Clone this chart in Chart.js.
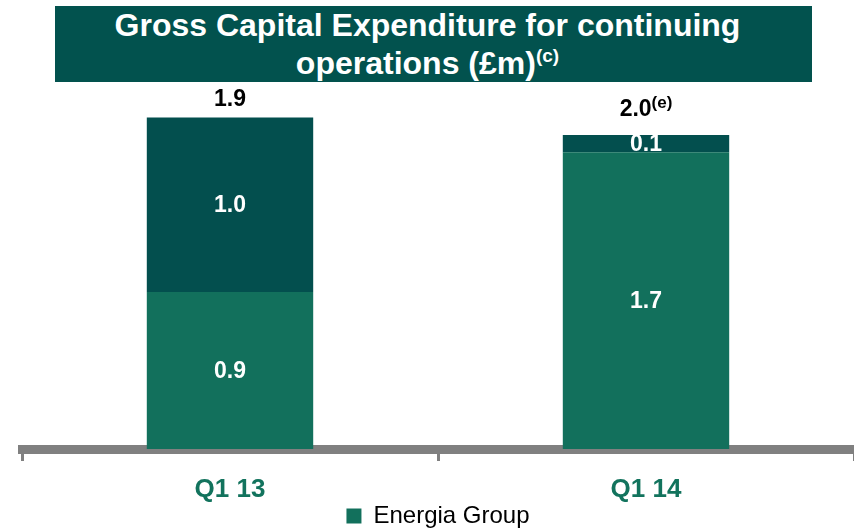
<!DOCTYPE html>
<html>
<head>
<meta charset="utf-8">
<script src="https://cdn.jsdelivr.net/npm/chart.js@4.4.1/dist/chart.umd.min.js"></script>
<style>
  html, body { margin: 0; padding: 0; background: #fff; overflow: hidden; }
  #wrap { position: relative; width: 854px; height: 529px; overflow: hidden; }
  #banner {
    position: absolute; left: 55px; top: 6px; width: 757px; height: 76px;
    background: #02524e; color: #fff; text-align: center;
    font: bold 32px "Liberation Sans", Arial, sans-serif; line-height: 38px;
    padding-right: 12px; box-sizing: border-box;
  }
  #banner sup { font-size: 19px; vertical-align: 12px; line-height: 0; }
  canvas { position: absolute; left: 0; top: 0; }
</style>
</head>
<body>
<div id="wrap">
  <canvas id="chart" width="854" height="538"></canvas>
  <div id="banner">Gross Capital Expenditure for continuing<br>operations (£m)<sup>(c)</sup></div>
</div>
<script>
const categories = ['Q1 13', 'Q1 14'];
const energiaGroup = [0.9, 1.7];
const other = [1.0, 0.1];
const totalLabels = ['1.9', '2.0'];
const totalNotes = ['', '(e)'];

const LIGHT = '#12705c';
const DARK = '#034f4e';
const FONT = '"Liberation Sans", Arial, sans-serif';

// value labels inside the segments and totals above each stack
const barLabels = {
  id: 'barLabels',
  afterDatasetsDraw(chart) {
    const ctx = chart.ctx;
    ctx.save();
    ctx.textAlign = 'center';
    ctx.textBaseline = 'middle';
    ctx.font = 'bold 23px ' + FONT;
    ctx.fillStyle = '#fff';
    chart.data.datasets.forEach((ds, di) => {
      chart.getDatasetMeta(di).data.forEach((bar, i) => {
        const mid = (bar.y + bar.base) / 2;
        ctx.fillText(ds.data[i].toFixed(1), bar.x, mid + 1);
      });
    });
    const top = chart.getDatasetMeta(1).data;
    top.forEach((bar, i) => {
      ctx.fillStyle = '#000';
      ctx.textBaseline = 'alphabetic';
      ctx.textAlign = 'left';
      const main = totalLabels[i];
      const note = totalNotes[i];
      ctx.font = 'bold 23px ' + FONT;
      const w1 = ctx.measureText(main).width;
      ctx.font = 'bold 17px ' + FONT;
      const w2 = note ? ctx.measureText(note).width : 0;
      const x0 = bar.x - (w1 + w2) / 2;
      const base = bar.y - (note ? 19 : 11);
      ctx.font = 'bold 23px ' + FONT;
      ctx.fillText(main, x0, base);
      if (note) {
        ctx.font = 'bold 17px ' + FONT;
        ctx.fillText(note, x0 + w1, base - 8);
      }
    });
    ctx.restore();
  }
};

new Chart(document.getElementById('chart'), {
  type: 'bar',
  data: {
    labels: categories,
    datasets: [
      { label: 'Energia Group', data: energiaGroup, backgroundColor: LIGHT, barPercentage: 0.4, categoryPercentage: 1 },
      { label: 'Other', data: other, backgroundColor: DARK, barPercentage: 0.4, categoryPercentage: 1 }
    ]
  },
  options: {
    responsive: false,
    animation: false,
    layout: { padding: { top: 100, left: 22, right: 0, bottom: 0 } },
    plugins: {
      legend: {
        position: 'bottom',
        labels: {
          filter: (item) => item.datasetIndex === 0,
          color: '#000',
          font: { family: FONT, size: 24 },
          boxWidth: 15, boxHeight: 15, padding: 2
        }
      },
      tooltip: { enabled: false }
    },
    scales: {
      x: {
        stacked: true,
        afterFit: (scale) => { scale.height = 53; },
        border: { display: true, color: '#808080', width: 9 },
        grid: { display: true, drawOnChartArea: false, drawTicks: true, tickLength: 12, color: '#808080', lineWidth: 3, offset: true },
        ticks: { color: '#12735d', font: { family: FONT, size: 26, weight: 'bold' }, padding: 13 }
      },
      y: {
        stacked: true, display: false, min: 0, max: 2.0
      }
    }
  },
  plugins: [barLabels]
});
</script>
</body>
</html>
